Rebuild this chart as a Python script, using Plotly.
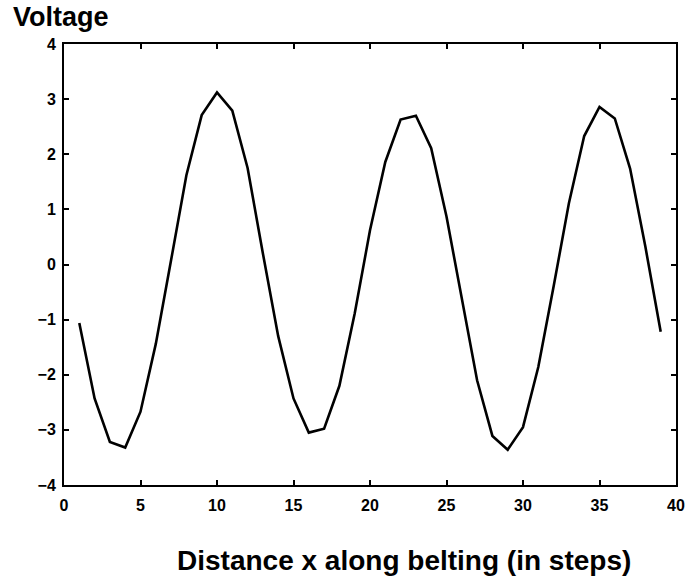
import plotly.graph_objects as go

steps = list(range(1, 40))
voltage = [-1.06, -2.43, -3.22, -3.32, -2.67, -1.44, 0.08, 1.62, 2.71, 3.12,
           2.79, 1.75, 0.2, -1.3, -2.43, -3.05, -2.98, -2.2, -0.89, 0.62,
           1.86, 2.63, 2.70, 2.11, 0.87, -0.59, -2.1, -3.11, -3.36, -2.95,
           -1.86, -0.4, 1.11, 2.33, 2.86, 2.65, 1.74, 0.32, -1.22]

x_ticks = [0, 5, 10, 15, 20, 25, 30, 35, 40]
y_ticks = [-4, -3, -2, -1, 0, 1, 2, 3, 4]

FONT = "Liberation Sans, Arial, sans-serif"

fig = go.Figure()
fig.add_trace(go.Scatter(x=steps, y=voltage, mode="lines",
                         line=dict(color="black", width=2.6),
                         showlegend=False, hoverinfo="skip"))

axis_common = dict(showline=True, linecolor="black", linewidth=2,
                   mirror="ticks", ticks="inside", ticklen=5, tickwidth=2,
                   tickcolor="black", showgrid=False, zeroline=False,
                   automargin=False,
                   tickfont=dict(family=FONT, size=16, color="black", weight="bold"))

fig.update_xaxes(range=[0, 40], tickvals=x_ticks, ticklabelstandoff=5, **axis_common)
fig.update_yaxes(range=[-4, 4], tickvals=y_ticks, ticklabelstandoff=3, **axis_common)

fig.update_layout(
    width=687, height=581,
    margin=dict(l=64, r=11, t=44, b=96),
    plot_bgcolor="white", paper_bgcolor="white",
    annotations=[
        dict(text="<b>Voltage</b>", xref="paper", yref="paper",
             x=-0.005, y=1.062, xanchor="center", yanchor="middle",
             showarrow=False, font=dict(family=FONT, size=27, color="black")),
        dict(text="<b>Distance x along belting (in steps)</b>", xref="paper", yref="paper",
             x=0.556, y=-0.172, xanchor="center", yanchor="middle",
             showarrow=False, font=dict(family=FONT, size=28, color="black")),
    ],
)

fig.write_html("out.html")
